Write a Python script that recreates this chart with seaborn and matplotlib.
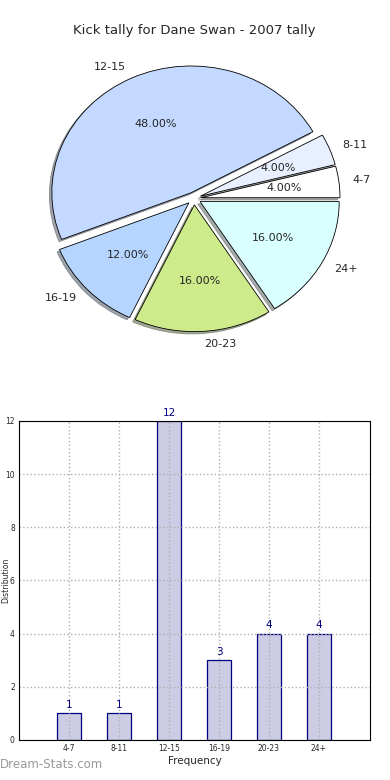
import matplotlib
matplotlib.use("Agg")
import matplotlib.pyplot as plt
import seaborn as sns
import pandas as pd

categories = ["4-7", "8-11", "12-15", "16-19", "20-23", "24+"]
counts = [1, 1, 12, 3, 4, 4]
pie_colors = ["#FFFFFF", "#E8F0FF", "#C3D9FF", "#B5D5FF", "#CDEB8B", "#D9FFFF"]
title = "Kick tally for Dane Swan - 2007 tally"
y_label = "Distribution"
x_label = "Frequency"
y_ticks = [0, 2, 4, 6, 8, 10, 12]

sns.set_style("white")
plt.rcParams['font.family'] = ['DejaVu Sans']

fig = plt.figure(figsize=(3.9, 7.8), dpi=100)

# Pie
axp = fig.add_axes([0.0513, 0.5423, 0.892, 0.4064])
wedges, texts, autotexts = axp.pie(
    counts, labels=categories, colors=pie_colors, explode=[0.05] * len(counts),
    autopct="%1.2f%%", shadow=dict(ox=-0.013, oy=-0.013, shade=0.65), startangle=0,
    counterclock=True,
    wedgeprops=dict(edgecolor="black", linewidth=0.6),
    textprops=dict(fontsize=8))
axp.set_aspect("auto")
axp.set_xlim(-1.25, 1.25)
axp.set_ylim(-1.25, 1.25)
axp.set_title(title, fontsize=9.5, pad=4)

# Bars
axb = fig.add_axes([0.0487, 0.0513, 0.90, 0.409])
df = pd.DataFrame({"cat": categories, "count": counts})
sns.barplot(data=df, x="cat", y="count", ax=axb, color="#CCCCE4",
            edgecolor="#000080", linewidth=0.9, width=0.47, saturation=1)
axb.set_xlim(-1, 6.02)
axb.set_ylim(0, 12)
axb.set_yticks(y_ticks)
axb.grid(True, color="#b0b0b0", linestyle=":", linewidth=1)
axb.set_axisbelow(False)
for i, v in enumerate(counts):
    axb.text(i, v + 0.12, str(v), ha="center", va="bottom", color="#000080", fontsize=7.5)
axb.set_xlabel(x_label, fontsize=7.5, labelpad=2)
axb.set_ylabel(y_label, fontsize=5.5)
axb.yaxis.set_label_coords(-0.026, 0.5)
axb.tick_params(axis="both", labelsize=5.5, direction="in", length=3, pad=3)
for s in axb.spines.values():
    s.set_color("black")
    s.set_linewidth(0.8)
    s.set_zorder(5)

fig.text(0.0, 0.012, "Dream-Stats.com", color="#999999", fontsize=8.5, ha="left", va="bottom")

fig.savefig("out.png", dpi=100)
